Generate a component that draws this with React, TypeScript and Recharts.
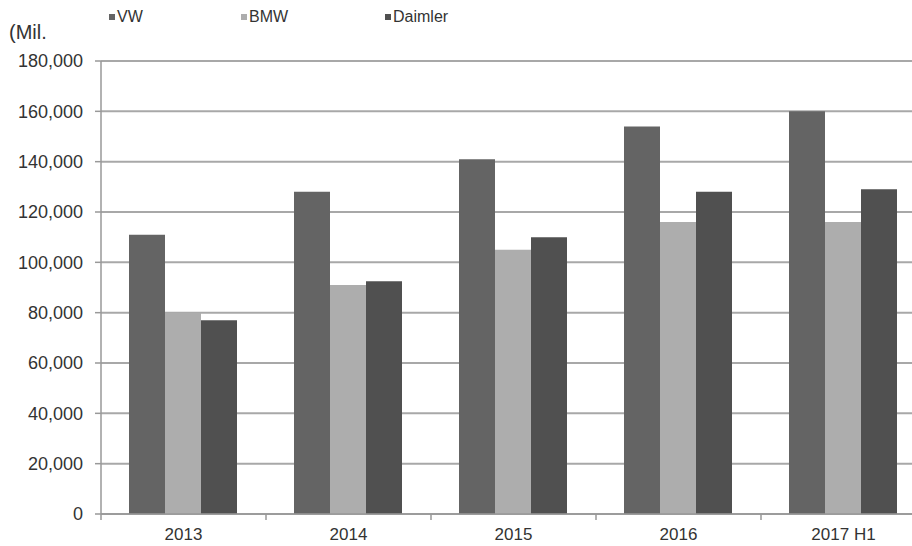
import React from "react";
import { BarChart, Bar, XAxis, YAxis, CartesianGrid, Legend } from "recharts";

const categories = ["2013", "2014", "2015", "2016", "2017 H1"];
const vw = [111000, 128000, 141000, 154000, 160000];
const bmw = [80000, 91000, 105000, 116000, 116000];
const daimler = [77000, 92500, 110000, 128000, 129000];
const yTicks = [0, 20000, 40000, 60000, 80000, 100000, 120000, 140000, 160000, 180000];

const seriesNames = ["VW", "BMW", "Daimler"];
const seriesColors = ["#646464", "#adadad", "#505050"];

const data = categories.map((c, i) => ({ name: c, VW: vw[i], BMW: bmw[i], Daimler: daimler[i] }));

const FONT = "'Liberation Sans', Arial, sans-serif";

const XTick = (props: any) => {
  const { x, y, payload } = props;
  const off = payload && payload.offset ? payload.offset : 82.5;
  const axisY = y - 14;
  return (
    <g>
      <line x1={x - off} x2={x - off} y1={axisY} y2={axisY + 6} stroke="#999" strokeWidth={1.5} />
      <text x={x} y={y} dy="0.71em" textAnchor="middle" fill="#333" fontSize={17} fontFamily={FONT}>
        {payload.value}
      </text>
    </g>
  );
};

const legendOffsets = [0, 132, 276];

const LegendContent = () => (
  <div style={{ position: "relative", height: 0, overflow: "visible", fontFamily: FONT, fontSize: 16, color: "#333" }}>
    {seriesNames.map((n, i) => (
      <div key={n} style={{ position: "absolute", left: legendOffsets[i], top: 0, display: "flex", alignItems: "center", whiteSpace: "nowrap" }}>
        <span style={{ display: "inline-block", width: 6, height: 6, background: seriesColors[i], marginRight: 2 }} />
        <span>{n}</span>
      </div>
    ))}
  </div>
);

export default function App() {
  return (
    <div style={{ position: "fixed", left: 0, top: 0, width: 912, height: 546, overflow: "hidden", background: "#fff" }}>
      <div style={{ position: "absolute", left: 9, top: 21, fontFamily: FONT, fontSize: 20, color: "#333" }}>(Mil.</div>
      <BarChart
        width={930}
        height={546}
        data={data}
        margin={{ top: 61, right: 4, bottom: 0, left: 0 }}
        barCategoryGap={28}
        barGap={0}
      >
        <CartesianGrid vertical={false} stroke="#a8a8a8" strokeWidth={2} />
        <XAxis
          dataKey="name"
          height={32}
          axisLine={{ stroke: "#999", strokeWidth: 1.5 }}
          tickLine={false}
          tickSize={6}
          tickMargin={8}
          tick={<XTick />}
          interval={0}
        />
        <YAxis
          width={101}
          domain={[0, 180000]}
          ticks={yTicks}
          interval={0}
          axisLine={{ stroke: "#999", strokeWidth: 1.5 }}
          tickLine={{ stroke: "#999", strokeWidth: 1.5 }}
          tickSize={6}
          tickMargin={12}
          tick={{ fill: "#333", fontSize: 18, fontFamily: FONT }}
          tickFormatter={(v: number) => v.toLocaleString("en-US")}
        />
        <Legend
          verticalAlign="top"
          align="left"
          height={0}
          content={<LegendContent />}
          wrapperStyle={{ position: "absolute", top: 8, left: 109, width: 500, height: 0 }}
        />
        {seriesNames.map((n, i) => (
          <Bar key={n} dataKey={n} fill={seriesColors[i]} isAnimationActive={false} />
        ))}
      </BarChart>
    </div>
  );
}
